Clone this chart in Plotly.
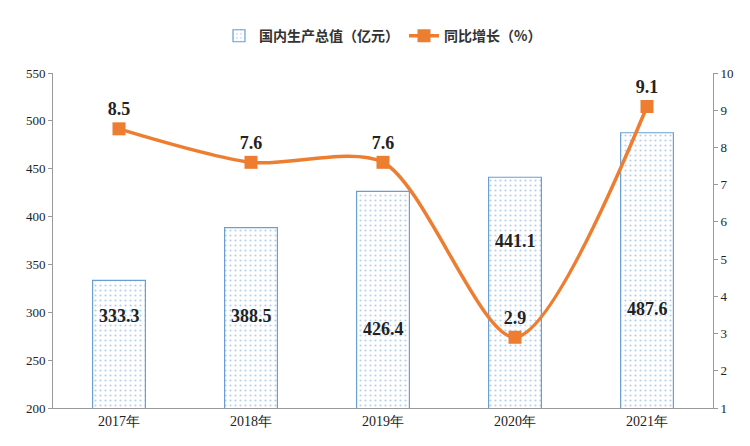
import plotly.graph_objects as go

years = ["2017年", "2018年", "2019年", "2020年", "2021年"]
gdp = [333.3, 388.5, 426.4, 441.1, 487.6]
growth = [8.5, 7.6, 7.6, 2.9, 9.1]

serif = "Liberation Serif, Times New Roman, serif"

fig = go.Figure()
fig.add_trace(go.Bar(
    x=years, y=gdp, name="<b>国内生产总值（亿元）</b>", width=0.4,
    marker=dict(color="white", line=dict(color="#6a9fd4", width=1.2),
                pattern=dict(shape=".", fgcolor="#6a9fd4", size=5, solidity=0.15)),
))
fig.add_trace(go.Scatter(
    x=years, y=growth, name="<b>同比增长（%）</b>", yaxis="y2",
    mode="lines+markers+text", line=dict(color="#ed7d31", width=3.5, shape="spline", smoothing=0.8),
    marker=dict(symbol="square", size=13, color="#ed7d31"),
    text=[f"{v}" for v in growth], textposition="top center",
    textfont=dict(family=serif, size=18, color="#222"),
))

# bar value labels sit inside the bars at varying heights
label_y = [296, 296, 283, 375, 303]
for x, v, ly in zip(years, gdp, label_y):
    fig.add_annotation(x=x, y=ly, text=f"<b>{v}</b>", showarrow=False,
                       font=dict(family=serif, size=18, color="#222"))

fig.update_traces(selector=dict(type="scatter"), texttemplate="<b>%{text}</b>")

fig.update_layout(
    width=750, height=446, plot_bgcolor="white", paper_bgcolor="white",
    margin=dict(l=45, r=45, t=62, b=46),
    font=dict(family=serif, size=13, color="#222"),
    legend=dict(orientation="h", x=0.5, xanchor="center", y=1.11, yanchor="middle",
                font=dict(family="Noto Sans CJK SC", size=14, color="#333")),
    xaxis=dict(showline=True, linecolor="#999", ticks="", tickfont=dict(family=serif, size=14, color="#222"),
               showgrid=False),
    yaxis=dict(range=[200, 550], dtick=50, showline=True, linecolor="#999", ticks="outside",
               ticklen=4, tickcolor="#999", showgrid=False, zeroline=False),
    yaxis2=dict(range=[1, 10], dtick=1, overlaying="y", side="right", showline=True,
                linecolor="#999", ticks="outside", ticklen=4, tickcolor="#999", showgrid=False),
    bargap=0.6,
)

fig.write_html("out.html")
